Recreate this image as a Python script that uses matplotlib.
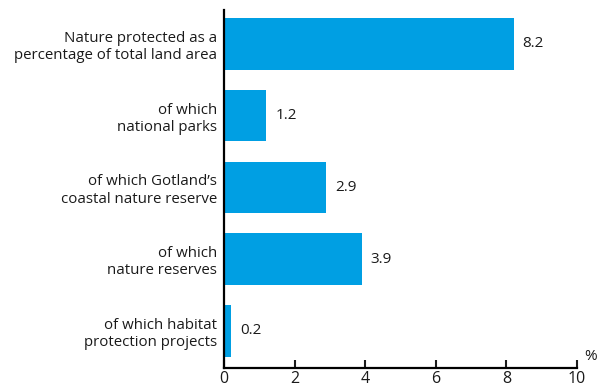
import matplotlib
matplotlib.use("Agg")
import matplotlib.pyplot as plt

plt.rcParams['font.family'] = ['Open Sans', 'DejaVu Sans']

# data
categories = [
    "Nature protected as a\npercentage of total land area",
    "of which\nnational parks",
    "of which Gotland\u2019s\ncoastal nature reserve",
    "of which\nnature reserves",
    "of which habitat\nprotection projects",
]
values = [8.2, 1.2, 2.9, 3.9, 0.2]
value_labels = ["8.2", "1.2", "2.9", "3.9", "0.2"]
xticks = [0, 2, 4, 6, 8, 10]

bar_color = "#009fe3"
text_color = "#1a1a1a"

fig = plt.figure(figsize=(6.01, 3.88), dpi=100)
ax = fig.add_axes([0.3727, 0.0515, 0.5875, 0.922])

ypos = list(range(len(categories)))[::-1]
ax.barh(ypos, values, height=0.72, color=bar_color)

for y, v, lab in zip(ypos, values, value_labels):
    ax.text(v + 0.25, y, lab, va="center", ha="left", fontsize=11, color=text_color)

ax.set_xlim(0, 10)
ax.set_ylim(-0.52, 4.47)
ax.set_yticks(ypos)
ax.set_yticklabels(categories, fontsize=10.8, color=text_color, linespacing=1.2)
ax.set_xticks(xticks)
ax.set_xticklabels([str(t) for t in xticks], fontsize=11.5, color=text_color)

ax.tick_params(axis="y", length=0, pad=5)
ax.tick_params(axis="x", direction="in", length=6, width=1.5, pad=2, colors=text_color)

for s in ["top", "right"]:
    ax.spines[s].set_visible(False)
for s in ["left", "bottom"]:
    ax.spines[s].set_linewidth(1.6)
    ax.spines[s].set_color("black")

ax.text(1.02, 0.01, "%", transform=ax.transAxes, fontsize=11, color=text_color,
        ha="left", va="bottom")

fig.savefig("out.png", dpi=100)
